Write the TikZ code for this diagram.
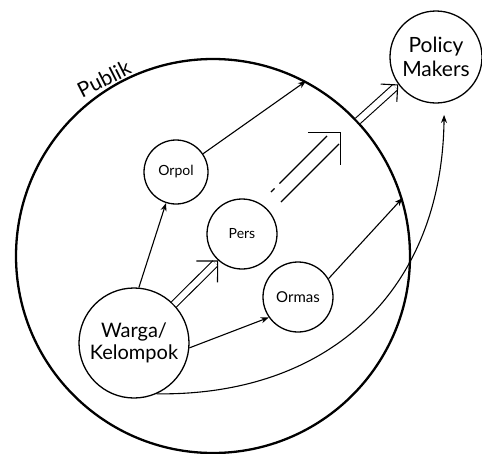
\documentclass[tikz,border=0pt]{standalone}
\usepackage{fontspec}
\setmainfont{Lato}
\usepackage{tikz}
\usetikzlibrary{positioning, arrows.meta}

\tikzset{
  actor/.style={draw, circle, inner sep=0pt, line width=1.3pt},
  flow/.style={->, >={Stealth[length=8pt, width=6pt]}, line width=1.1pt},
  dbl/.style={double, double distance=#1, line width=1.1pt},
  dbl/.default=6pt,
  barb/.style={white, line width=0.4pt, -{Straight Barb[color=black, line width=1.1pt, length=#1, width=2*#1]}},
}

\begin{document}
\begin{tikzpicture}[x=1pt, y=-1pt]
		\useasboundingbox (0,0) rectangle (482,453);

		% Draw the "Publik" circle and the actors inside
		\node[draw, circle, inner sep=0pt, line width=2.3pt, minimum size=394pt] (publik) at (213,256) {};
		\node[rotate=27, font=\fontsize{21}{21}\selectfont] (publikLabel) at (104,79) {Publik};

		\node[actor, minimum size=64pt, font=\fontsize{14}{14}\selectfont] (orpol) at (176,172) {Orpol};
		\node[actor, minimum size=70pt, font=\fontsize{14}{14}\selectfont] (pers) at (242,234) {Pers};
		\node[actor, minimum size=70pt, font=\fontsize{15}{15}\selectfont] (ormas) at (298,297) {Ormas};
		\node[actor, minimum size=110pt, align=center, font=\fontsize{20}{22}\selectfont] (warga) at (134,343) {Warga/\\Kelompok};

		% Draw the target outside
		\node[actor, minimum size=92pt, align=center, font=\fontsize{21}{24}\selectfont] (policy) at (436,57) {Policy\\Makers};

		% Ends of the wide press channel
		\coordinate (persFrom) at (276,197);
		\coordinate (persTip) at (341,132);
		\coordinate (persUp) at (271,192);
		\coordinate (persUpEnd) at (327,136);
		\coordinate (persLow) at (281,202);
		\coordinate (persLowEnd) at (339,144);

		% Single channels
		\draw[flow] (warga.85) -- (orpol);
		\draw[flow] (warga.-5) -- (ormas.215);
		\draw[flow] (orpol.34) -- (publik.62);
		\draw[flow] (ormas.31) -- (publik.17);
		\draw[flow] (warga.-66) .. controls (330,396) and (442,290) .. ([yshift=-12pt]policy.-80);

		% Double channels through the press
		\draw[dbl, shorten >=4pt] (warga.44) -- (pers.228);
		\draw[barb=15pt] (warga.44) -- (pers.228);

		\draw[line width=1.1pt, dash pattern=on 5pt off 7pt on 200pt] (persUp) -- (persUpEnd);
		\draw[line width=1.1pt] (persLow) -- (persLowEnd);
		\draw[barb=23pt] (persFrom) -- (persTip);

		\draw[dbl, shorten >=4pt] (publik.43) -- (policy.216);
		\draw[barb=12pt] (publik.43) -- (policy.216);
	\end{tikzpicture}
\end{document}
